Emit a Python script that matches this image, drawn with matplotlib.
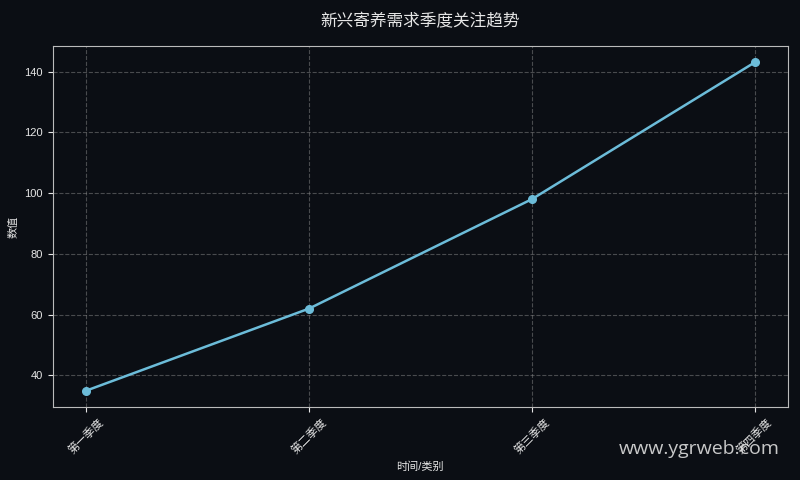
import matplotlib
matplotlib.use('Agg')
import matplotlib.pyplot as plt

plt.rcParams['font.family'] = ['Liberation Sans', 'Noto Sans CJK SC', 'DejaVu Sans']
plt.rcParams['axes.unicode_minus'] = False

# data
categories = ['第一季度', '第二季度', '第三季度', '第四季度']
values = [35, 62, 98, 143]
title = '新兴寄养需求季度关注趋势'

bg = '#0b0e14'
fg = '#e6e6e6'

fig, ax = plt.subplots(figsize=(8, 4.8), dpi=100)
fig.patch.set_facecolor(bg)
ax.set_facecolor(bg)

ax.plot(categories, values, color='#6cbcd9', linewidth=1.8, marker='o', markersize=5.5)

ax.set_title(title, color=fg, fontsize=12, pad=14)
ax.set_xlabel('时间/类别', color=fg, fontsize=8)
ax.set_ylabel('数值', color=fg, fontsize=8)
ax.tick_params(colors=fg, labelsize=8)
plt.setp(ax.get_xticklabels(), rotation=45)
for s in ax.spines.values():
    s.set_color('#bbbbbb')
ax.grid(True, linestyle='--', color='#888888', alpha=0.5, linewidth=0.8)

fig.text(0.975, 0.065, 'www.ygrweb.com', color='#dddddd', fontsize=14,
         ha='right', va='center', family=['Open Sans', 'DejaVu Sans'], alpha=0.9)

fig.subplots_adjust(left=0.066, right=0.985, top=0.904, bottom=0.152)
fig.savefig('out.png', dpi=100, facecolor=bg)
